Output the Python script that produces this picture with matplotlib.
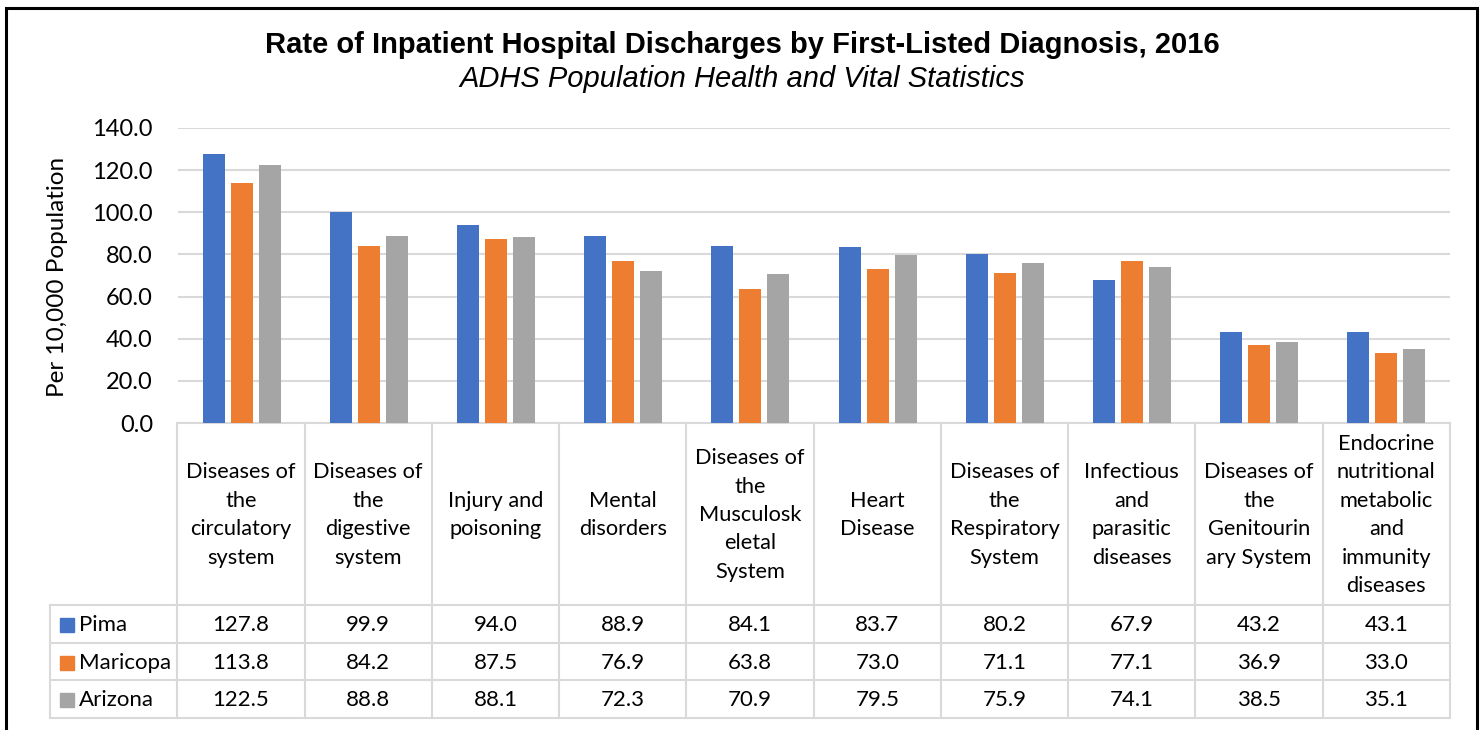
import numpy as np
import matplotlib
matplotlib.use("Agg")
import matplotlib.pyplot as plt
from matplotlib.patches import Rectangle

categories = [
    "Diseases of\nthe\ncirculatory\nsystem",
    "Diseases of\nthe\ndigestive\nsystem",
    "Injury and\npoisoning",
    "Mental\ndisorders",
    "Diseases of\nthe\nMusculosk\neletal\nSystem",
    "Heart\nDisease",
    "Diseases of\nthe\nRespiratory\nSystem",
    "Infectious\nand\nparasitic\ndiseases",
    "Diseases of\nthe\nGenitourin\nary System",
    "Endocrine\nnutritional\nmetabolic\nand\nimmunity\ndiseases",
]
series_names = ["Pima", "Maricopa", "Arizona"]
pima = [127.8, 99.9, 94.0, 88.9, 84.1, 83.7, 80.2, 67.9, 43.2, 43.1]
maricopa = [113.8, 84.2, 87.5, 76.9, 63.8, 73.0, 71.1, 77.1, 36.9, 33.0]
arizona = [122.5, 88.8, 88.1, 72.3, 70.9, 79.5, 75.9, 74.1, 38.5, 35.1]
yticks = [0, 20, 40, 60, 80, 100, 120, 140]

colors = ["#4472C4", "#ED7D31", "#A5A5A5"]
grid_col = "#D9D9D9"
body_font = ["Lato", "DejaVu Sans"]

W, H = 1481, 730
fig = plt.figure(figsize=(W / 100, H / 100), dpi=100)


def fx(px):
    return px / W


def fy(py):
    return 1 - py / H


# outer frame
fig.patches.append(Rectangle((fx(6), fy(740)), fx(1477) - fx(6), fy(8) - fy(740),
                             transform=fig.transFigure, fill=False,
                             edgecolor="black", linewidth=2.2))

fig.text(fx(742), fy(45), "Rate of Inpatient Hospital Discharges by First-Listed Diagnosis, 2016",
         ha="center", va="center", fontsize=21, fontweight="bold", family="Liberation Sans")
fig.text(fx(742), fy(79), "ADHS Population Health and Vital Statistics",
         ha="center", va="center", fontsize=21, style="italic", family="Liberation Sans")

ax = fig.add_axes([fx(178), fy(423), fx(1450) - fx(178), fy(128) - fy(423)])
x = np.arange(len(categories))
bw = 0.173
for i, vals in enumerate([pima, maricopa, arizona]):
    ax.bar(x + (i - 1) * 0.22, vals, width=bw, color=colors[i], zorder=3)
ax.set_xlim(-0.5, len(categories) - 0.5)
ax.set_ylim(0, 140)
ax.set_yticks(yticks)
ax.set_yticklabels([f"{v:.1f}" for v in yticks], family=body_font, fontsize=17)
ax.set_xticks([])
ax.tick_params(axis="y", length=0, pad=18)
ax.grid(axis="y", color=grid_col, linewidth=1.5, zorder=0)
for s in ["top", "right", "left"]:
    ax.spines[s].set_visible(False)
ax.spines["bottom"].set_color(grid_col)
ax.spines["bottom"].set_linewidth(1.5)
fig.text(fx(58), fy(277), "Per 10,000 Population", rotation=90, ha="center", va="center",
         fontsize=17.5, family=body_font)

# data table below the axis
tax = fig.add_axes([fx(50), fy(718), fx(1450) - fx(50), fy(423) - fy(718)])
tax.set_xlim(-1.5, len(categories) - 0.5)
tax.set_ylim(718, 423)
tax.axis("off")
row_edges = [605, 643, 680, 718]
for b in np.arange(-0.5, len(categories), 1.0):
    tax.plot([b, b], [423, 718], color=grid_col, lw=1.5, clip_on=False)
tax.plot([-1.5, -1.5], [605, 718], color=grid_col, lw=1.5, clip_on=False)
for r in row_edges:
    tax.plot([-1.5, len(categories) - 0.5], [r, r], color=grid_col, lw=1.5, clip_on=False)

for i, cat in enumerate(categories):
    tax.text(i, 515, cat, ha="center", va="center", fontsize=15.7, family=body_font,
             linespacing=1.53)

for j, (name, vals) in enumerate(zip(series_names, [pima, maricopa, arizona])):
    yc = (row_edges[j] + row_edges[j + 1]) / 2 + 1
    tax.plot([-1.37], [yc], marker="s", markersize=9.4, color=colors[j], linestyle="none",
             clip_on=False)
    tax.text(-1.272, yc, name, ha="left", va="center", fontsize=16, family=body_font)
    for i, v in enumerate(vals):
        tax.text(i, yc, f"{v:.1f}", ha="center", va="center", fontsize=16, family=body_font)

fig.savefig("out.png", dpi=100)
